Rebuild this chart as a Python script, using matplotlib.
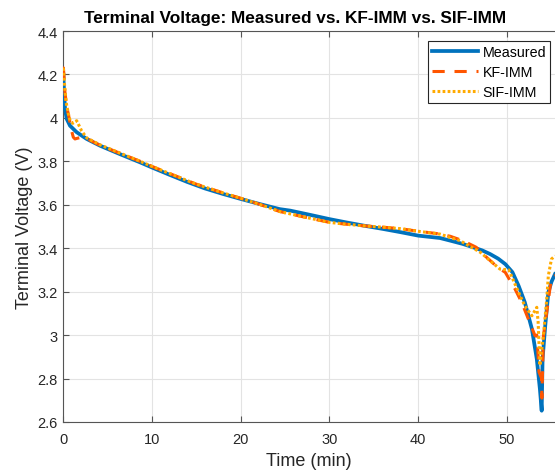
import matplotlib
matplotlib.use("Agg")
import matplotlib.pyplot as plt
import numpy as np

plt.rcParams['font.family'] = ['Liberation Sans', 'DejaVu Sans']

# Measured terminal voltage
t_meas = [0, 0.05, 0.12, 0.23, 0.42, 0.79, 1.54, 2.67, 4.17, 6.6, 8.7, 10, 12, 14, 16, 18, 20,
          22, 24.4, 25.6, 28, 30, 32, 34, 36, 38, 40, 42.45, 43.6, 45, 46.2, 47.2, 48.1, 49.0,
          49.8, 50.6, 51.3, 52.0, 52.8, 53.35, 53.7, 53.9, 54.0, 54.3, 54.65, 55.0, 55.4]
v_meas = [4.22, 4.19, 4.12, 4.04, 3.995, 3.964, 3.934, 3.903, 3.872, 3.83, 3.795, 3.772, 3.738,
          3.705, 3.675, 3.65, 3.627, 3.605, 3.58, 3.573, 3.552, 3.534, 3.518, 3.503, 3.489,
          3.474, 3.458, 3.447, 3.435, 3.42, 3.404, 3.39, 3.373, 3.352, 3.327, 3.29, 3.227,
          3.151, 3.028, 2.89, 2.752, 2.652, 2.89, 3.043, 3.197, 3.245, 3.281]

# KF-IMM estimate
t_kf = [0, 0.05, 0.22, 0.42, 0.6, 0.97, 1.16, 1.35, 1.6, 2.0, 2.67, 4.17, 6.6, 8.7, 10, 12, 15,
        18, 20, 22, 24.4, 27, 30, 32, 34.2, 36, 38, 40, 42, 43.6, 45, 46.5, 47.7, 49.0, 49.8,
        50.9, 51.65, 52.4, 53.15, 53.35, 53.45, 53.6, 53.9, 53.92, 54.1, 54.47, 55.0, 55.4]
v_kf = [4.225, 4.23, 4.118, 4.05, 4.018, 3.94, 3.911, 3.903, 3.906, 3.91, 3.905, 3.874, 3.834,
        3.8, 3.777, 3.744, 3.695, 3.655, 3.63, 3.604, 3.569, 3.545, 3.519, 3.51, 3.502, 3.497,
        3.49, 3.478, 3.468, 3.455, 3.435, 3.405, 3.358, 3.31, 3.289, 3.212, 3.151, 3.074, 2.997,
        3.0, 2.94, 2.83, 2.8, 2.71, 2.997, 3.105, 3.266, 3.275]

# SIF-IMM estimate
t_sif = [0, 0.05, 0.2, 0.36, 0.6, 0.8, 1.1, 1.54, 1.9, 2.1, 2.67, 4.17, 6.6, 8.7, 10, 12, 15, 18,
         20, 22, 24.4, 27, 30, 32, 34.2, 36, 38, 40, 42.45, 44.7, 47.0, 49.2, 50.2, 51.3, 52.0,
         52.8, 53.35, 53.5, 53.7, 54.1, 54.47, 54.65, 55.0, 55.4]
v_sif = [4.22, 4.225, 4.14, 4.07, 4.02, 3.987, 3.975, 3.987, 3.957, 3.94, 3.908, 3.876, 3.835,
         3.8, 3.777, 3.744, 3.695, 3.655, 3.63, 3.604, 3.569, 3.545, 3.519, 3.51, 3.502, 3.497,
         3.49, 3.478, 3.465, 3.435, 3.381, 3.304, 3.3, 3.197, 3.135, 3.089, 3.128, 3.06, 2.86,
         3.0, 3.166, 3.273, 3.35, 3.365]

x_ticks = [0, 10, 20, 30, 40, 50]
y_ticks = [2.6, 2.8, 3.0, 3.2, 3.4, 3.6, 3.8, 4.0, 4.2, 4.4]
y_labels = ['2.6', '2.8', '3', '3.2', '3.4', '3.6', '3.8', '4', '4.2', '4.4']

fig = plt.figure(figsize=(5.55, 4.77), dpi=100)
ax = fig.add_axes([63 / 555, 54 / 477, 1 - 63 / 555, 391 / 477])

ax.plot(t_meas, v_meas, color='#0072BD', lw=2.7, label='Measured', zorder=3)
ax.plot(t_kf, v_kf, color='#FF5500', lw=2.2, linestyle=(0, (4, 3.2)), label='KF-IMM',
        dash_capstyle='butt', zorder=4)
ax.plot(t_sif, v_sif, color='#FFAA00', lw=2.2, linestyle=(0, (0.9, 0.75)), label='SIF-IMM',
        dash_capstyle='butt', zorder=5)

ax.set_xlim(0, 55.4)
ax.set_ylim(2.6, 4.4)
ax.set_xticks(x_ticks)
ax.set_yticks(y_ticks)
ax.set_yticklabels(y_labels)
ax.grid(True, color='#e3e3e3', lw=0.8)
ax.set_axisbelow(True)

for s in ['left', 'bottom', 'top']:
    ax.spines[s].set_color('#555555')
    ax.spines[s].set_linewidth(0.8)
ax.spines['right'].set_visible(False)
ax.tick_params(direction='in', length=4, width=0.8, color='#555555', labelsize=10.5,
               labelcolor='#262626', top=True, right=False)
ax.tick_params(axis='x', pad=7.5)
ax.tick_params(axis='y', pad=4)

ax.set_xlabel('Time (min)', fontsize=13, color='#262626', labelpad=4)
ax.set_ylabel('Terminal Voltage (V)', fontsize=13, color='#262626', labelpad=3)
fig.text(295 / 555, 1 - 19 / 477, 'Terminal Voltage: Measured vs. KF-IMM vs. SIF-IMM',
         ha='center', va='center', fontsize=12.4, fontweight='bold')

leg = ax.legend(loc='upper right', bbox_to_anchor=(550 / 555, 1 - 42 / 477),
                bbox_transform=fig.transFigure, fontsize=10.3, handlelength=3.2,
                borderpad=0.25, labelspacing=0.45, handletextpad=0.35, borderaxespad=0,
                fancybox=False, framealpha=1, edgecolor='#262626')
leg.get_frame().set_linewidth(0.8)

fig.savefig('out.png', dpi=100)
